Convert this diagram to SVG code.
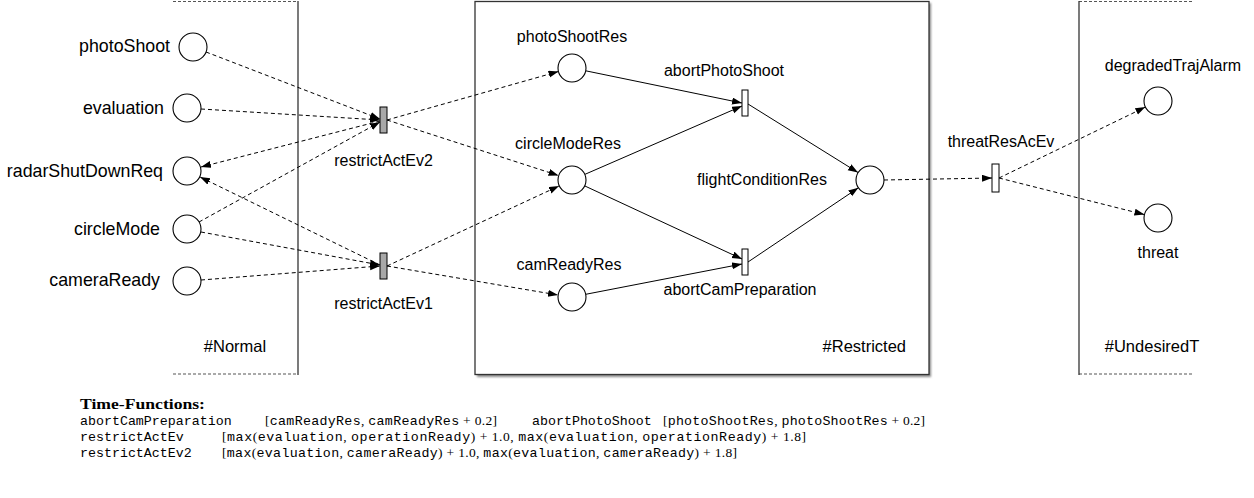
<svg xmlns="http://www.w3.org/2000/svg" width="1254" height="498" viewBox="0 0 1254 498">
<defs>
<marker id="ah" markerUnits="userSpaceOnUse" markerWidth="11" markerHeight="8" refX="10" refY="3.5" orient="auto">
<path d="M0,0 L10,3.5 L0,7 z" fill="#000"/>
</marker>
<filter id="sh" x="-5%" y="-5%" width="110%" height="110%">
<feGaussianBlur stdDeviation="1.2"/>
</filter>
</defs>
<style>
text{font-family:"Liberation Sans",Arial,Helvetica,sans-serif;font-size:16px;fill:#000}
.lf{font-size:17.8px}
.zn{font-size:16.5px}
.pl{fill:#fff;stroke:#000;stroke-width:1.1}
.tw{fill:#fff;stroke:#000;stroke-width:1}
.tg{fill:#a8a8a8;stroke:#000;stroke-width:1}
.d{fill:none;stroke:#000;stroke-width:1;stroke-dasharray:4 3;marker-end:url(#ah)}
.s{fill:none;stroke:#000;stroke-width:1;marker-end:url(#ah)}
.bd{fill:none;stroke:#555;stroke-width:1.2;stroke-dasharray:3 2}
.bs{fill:none;stroke:#333;stroke-width:1.3}
.mid{text-anchor:middle}
.end{text-anchor:end}
.tt{font-family:"Liberation Mono","DejaVu Sans Mono",monospace;font-size:13.3px}
.rm{font-family:"Liberation Serif","DejaVu Serif",serif;font-size:13.5px}
.bf{font-family:"Liberation Serif","DejaVu Serif",serif;font-size:15px;font-weight:bold}
</style>
<g id="normal">
<path class="bd" d="M173,1.5 H298 M173,374 H298"/>
<path class="bs" d="M298,1 V375"/>
<text x="235" y="352" class="mid zn">#Normal</text>
</g>
<g id="restricted">
<rect x="477" y="3" width="454" height="374" fill="#888" filter="url(#sh)"/>
<rect x="475" y="1.5" width="454" height="373" fill="#fff" stroke="#333" stroke-width="1.3"/>
<text x="906" y="352" class="end zn">#Restricted</text>
</g>
<g id="undesired">
<path class="bd" d="M1079,1.5 H1194 M1079,374 H1194"/>
<path class="bs" d="M1079,1 V375"/>
<text x="1152" y="352" class="mid zn">#UndesiredT</text>
</g>
<g id="connectors">
<line class="d" x1="206" y1="52" x2="380" y2="119"/>
<line class="d" x1="201" y1="109" x2="380" y2="120"/>
<line class="d" x1="380" y1="121" x2="201" y2="167"/>
<line class="d" x1="199" y1="222" x2="380" y2="122"/>
<line class="d" x1="380" y1="265" x2="200" y2="177"/>
<line class="d" x1="201" y1="232" x2="380" y2="265"/>
<line class="d" x1="201" y1="280" x2="380" y2="266"/>
<line class="d" x1="387" y1="120" x2="558.5" y2="71.5"/>
<line class="d" x1="387" y1="120" x2="558.5" y2="175.5"/>
<line class="d" x1="387" y1="266" x2="559" y2="186"/>
<line class="d" x1="387" y1="266" x2="558" y2="295"/>
<line class="s" x1="585.7" y1="70.8" x2="742" y2="103"/>
<line class="s" x1="584.8" y1="174.4" x2="742" y2="106"/>
<line class="s" x1="584.7" y1="185.9" x2="742" y2="259"/>
<line class="s" x1="585.7" y1="294.3" x2="742" y2="264"/>
<line class="s" x1="748" y1="104" x2="858" y2="172.5"/>
<line class="s" x1="748" y1="262" x2="858.4" y2="187.8"/>
<line class="d" x1="884" y1="180" x2="992" y2="178"/>
<line class="d" x1="999" y1="178" x2="1145.4" y2="107.1"/>
<line class="d" x1="999" y1="178" x2="1144.4" y2="214.6"/>
</g>
<g id="photoShoot"><circle class="pl" cx="193" cy="47" r="14"/><text x="170" y="52" class="end lf">photoShoot</text></g>
<g id="evaluation"><circle class="pl" cx="187" cy="108" r="14"/><text x="164" y="114" class="end lf">evaluation</text></g>
<g id="radarShutDownReq"><circle class="pl" cx="187" cy="171" r="14"/><text x="163" y="177" class="end lf">radarShutDownReq</text></g>
<g id="circleMode"><circle class="pl" cx="187" cy="229" r="14"/><text x="160" y="235" class="end lf">circleMode</text></g>
<g id="cameraReady"><circle class="pl" cx="187" cy="281" r="14"/><text x="160" y="286" class="end lf">cameraReady</text></g>
<g id="restrictActEv2"><rect class="tg" x="380" y="107" width="7" height="26"/><text x="383.5" y="166" class="mid">restrictActEv2</text></g>
<g id="restrictActEv1"><rect class="tg" x="380" y="253" width="7" height="26"/><text x="383.5" y="309" class="mid">restrictActEv1</text></g>
<g id="photoShootRes"><circle class="pl" cx="572" cy="68" r="14"/><text x="572" y="42" class="mid">photoShootRes</text></g>
<g id="circleModeRes"><circle class="pl" cx="572" cy="180" r="14"/><text x="568" y="149" class="mid">circleModeRes</text></g>
<g id="camReadyRes"><circle class="pl" cx="572" cy="297" r="14"/><text x="569" y="270" class="mid">camReadyRes</text></g>
<g id="abortPhotoShoot"><rect class="tw" x="742" y="90" width="6" height="26"/><text x="724" y="76" class="mid">abortPhotoShoot</text></g>
<g id="abortCamPreparation"><rect class="tw" x="742" y="249" width="6" height="26"/><text x="740" y="295" class="mid">abortCamPreparation</text></g>
<g id="flightConditionRes"><circle class="pl" cx="870" cy="180" r="14"/><text x="762" y="185" class="mid">flightConditionRes</text></g>
<g id="threatResAcEv"><rect class="tw" x="992" y="164" width="7" height="28"/><text x="1001" y="147" class="mid">threatResAcEv</text></g>
<g id="degradedTrajAlarm"><circle class="pl" cx="1158" cy="101" r="14"/><text x="1173" y="71" class="mid">degradedTrajAlarm</text></g>
<g id="threat"><circle class="pl" cx="1158" cy="218" r="14"/><text x="1158" y="258" class="mid">threat</text></g>
<g id="timeFunctions">
<text x="80" y="409" class="bf" textLength="125" lengthAdjust="spacingAndGlyphs">Time-Functions:</text>
<text x="80" y="425" class="tt">abortCamPreparation</text>
<text x="265" y="425" class="rm" textLength="232" lengthAdjust="spacing">[<tspan class="tt">camReadyRes</tspan>, <tspan class="tt">camReadyRes</tspan> + 0.2]</text>
<text x="532" y="425" class="tt">abortPhotoShoot</text>
<text x="663" y="425" class="rm" textLength="262" lengthAdjust="spacing">[<tspan class="tt">photoShootRes</tspan>, <tspan class="tt">photoShootRes</tspan> + 0.2]</text>
<text x="80" y="441" class="tt">restrictActEv</text>
<text x="222" y="441" class="rm" textLength="584" lengthAdjust="spacing">[<tspan class="tt">max</tspan>(<tspan class="tt">evaluation</tspan>, <tspan class="tt">operationReady</tspan>) + 1.0, <tspan class="tt">max</tspan>(<tspan class="tt">evaluation</tspan>, <tspan class="tt">operationReady</tspan>) + 1.8]</text>
<text x="80" y="457" class="tt">restrictActEv2</text>
<text x="222" y="457" class="rm" textLength="515" lengthAdjust="spacing">[<tspan class="tt">max</tspan>(<tspan class="tt">evaluation</tspan>, <tspan class="tt">cameraReady</tspan>) + 1.0, <tspan class="tt">max</tspan>(<tspan class="tt">evaluation</tspan>, <tspan class="tt">cameraReady</tspan>) + 1.8]</text>
</g>
</svg>
